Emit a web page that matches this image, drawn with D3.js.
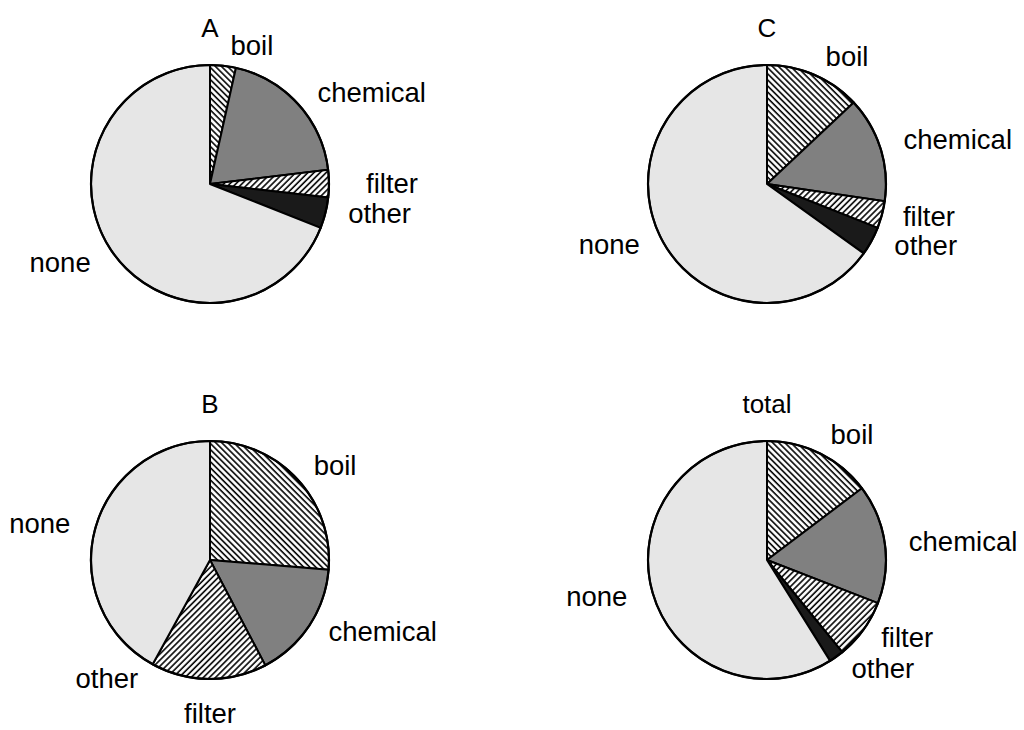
<!DOCTYPE html>
<html><head><meta charset="utf-8">
<script src="https://cdn.jsdelivr.net/npm/d3@7"></script>
<style>html,body{margin:0;padding:0;background:#fff;}svg{display:block;}</style>
</head><body>
<svg id="chart" width="1024" height="730"></svg>
<script>
// ---- data ----
const categories = ["boil", "chemical", "filter", "other", "none"];
const pieTitles = ["A", "C", "B", "total"];
const valuesA = [3.5, 19.6, 3.7, 4.2, 69.0];
const valuesC = [13.0, 14.3, 3.7, 3.9, 65.1];
const valuesB = [26.3, 16.0, 15.7, 0.0, 42.0];
const valuesTotal = [14.7, 16.2, 8.2, 2.0, 58.9];

// ---- layout ----
const seriesList = [valuesA, valuesC, valuesB, valuesTotal];
const centers = [[210, 184], [767, 184], [210, 560], [767, 560]];
const radius = 119;
const titleOffset = -156;
// label polar placement (angle deg clockwise from top, distance from centre)
const labelAngles = [
  [16.8, 60.4, 89.7, 99.7, 242.5],
  [32, 76.7, 101.2, 111, 249],
  [52.8, 112.6, 180, 221.1, 282],
  [34, 84.5, 118.8, 133.2, 258]
];
const labelRadii = [
  [145, 186, 182, 172, 169],
  [151, 196, 165, 170, 169],
  [157, 187, 153, 157, 174],
  [152, 197, 160, 159, 174]
];

const svg = d3.select("#chart");
const defs = svg.append("defs");
function hatch(id, angle) {
  const s = 4.3;
  const p = defs.append("pattern").attr("id", id)
    .attr("patternUnits", "userSpaceOnUse").attr("width", s).attr("height", s)
    .attr("patternTransform", `rotate(${angle})`);
  p.append("rect").attr("width", s).attr("height", s).attr("fill", "#fff");
  p.append("line").attr("x1", 1).attr("y1", -1).attr("x2", 1).attr("y2", s + 1)
    .attr("stroke", "#000").attr("stroke-width", 1.6);
}
hatch("hatchBoil", -45);
hatch("hatchFilter", 45);

const fills = d3.scaleOrdinal().domain(categories)
  .range(["url(#hatchBoil)", "#808080", "url(#hatchFilter)", "#1a1a1a", "#e6e6e6"]);

const pie = d3.pie().sort(null).value(d => d.v);
const arc = d3.arc().innerRadius(0).outerRadius(radius);
const font = "'Liberation Sans', Arial, sans-serif";

seriesList.forEach((vals, i) => {
  const [cx, cy] = centers[i];
  const g = svg.append("g").attr("transform", `translate(${cx},${cy})`);
  const data = categories.map((c, k) => ({ c, v: vals[k] }));
  const arcs = pie(data);
  g.selectAll("path.slice").data(arcs.filter(d => d.data.v > 0)).join("path")
    .attr("class", "slice")
    .attr("d", arc)
    .attr("fill", d => fills(d.data.c))
    .attr("stroke", "#000").attr("stroke-width", 2).attr("stroke-linejoin", "round");
  g.append("circle").attr("r", radius).attr("fill", "none")
    .attr("stroke", "#000").attr("stroke-width", 2.2);

  g.append("text").attr("x", 0).attr("y", titleOffset).attr("dy", "0.35em")
    .attr("text-anchor", "middle").style("font-family", font).style("font-size", "26px")
    .text(pieTitles[i]);

  g.selectAll("text.lbl").data(categories).join("text").attr("class", "lbl")
    .attr("x", (d, k) => labelRadii[i][k] * Math.sin(labelAngles[i][k] * Math.PI / 180))
    .attr("y", (d, k) => -labelRadii[i][k] * Math.cos(labelAngles[i][k] * Math.PI / 180))
    .attr("dy", "0.35em").attr("text-anchor", "middle")
    .style("font-family", font).style("font-size", "27.5px")
    .text(d => d);
});
</script>
</body></html>
